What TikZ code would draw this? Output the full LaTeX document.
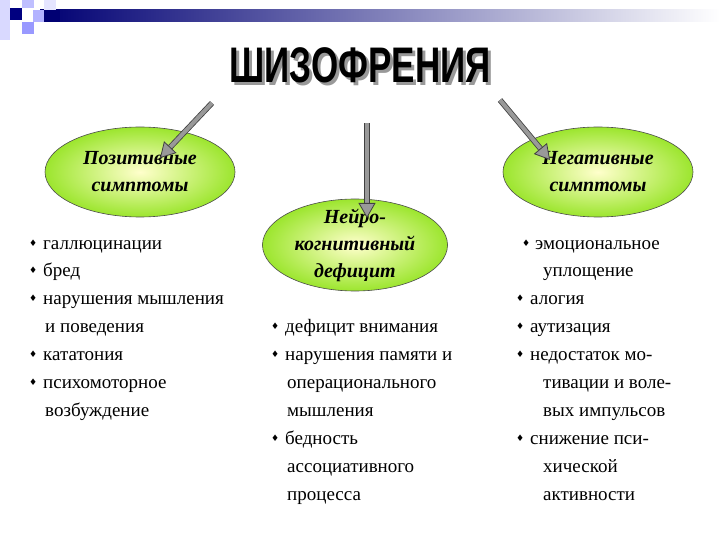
\documentclass[tikz,border=0pt]{standalone}
\usepackage{fontspec}
\setmainfont{Liberation Serif}
\newfontfamily\titlefont{Liberation Sans}
\newfontfamily\symfont{DejaVu Sans}
\usetikzlibrary{shadings,shapes.geometric,calc,arrows.meta}
\begin{document}
\begin{tikzpicture}[x=1pt,y=-1pt,
  ell/.style={draw=black!70,line width=0.6pt,inner color=white!80!yellow,outer color=green!40!yellow!80!white!90!black},
  lbl/.style={font=\fontsize{20}{27}\selectfont\bfseries\itshape,align=center},
  txt/.style={anchor=base west,font=\fontsize{19}{23}\selectfont,inner sep=0},
  bul/.style={anchor=base west,font=\symfont\fontsize{9}{9}\selectfont,inner sep=0,yshift=3pt},
  arr/.style={draw=black!75,line width=0.8pt,double=gray!80,double distance=4pt,
    -{Triangle[length=15pt,width=17pt,fill=gray!80]}}]
\useasboundingbox (0,0) rectangle (720,540);
% header decoration
\shade[left color=blue!45!black,right color=white] (40,10) rectangle (720,22);
\fill[blue!45!black] (40,10) rectangle (60,22);
\fill[blue!50!black] (10,8) rectangle (22,20);
\fill[blue!15] (0,0) rectangle (10,40);
\fill[blue!25] (22,0) rectangle (34,8);
\fill[blue!30] (33,10) rectangle (44,22);
\fill[blue!40] (22,22) rectangle (34,34);
\fill[blue!10] (44,0) rectangle (56,10);
% title
\node[font=\titlefont\bfseries\fontsize{50}{50}\selectfont,text=black!40,xscale=0.7] at (363,68) {ШИЗОФРЕНИЯ};
\node[font=\titlefont\bfseries\fontsize{50}{50}\selectfont,xscale=0.7] (t) at (360,65) {ШИЗОФРЕНИЯ};
% ellipses
\node[ell,ellipse,minimum width=190,minimum height=90] (p) at (140,172) {};
\node[lbl] at (p) {Позитивные\\симптомы};
\node[ell,ellipse,minimum width=190,minimum height=90] (n) at (598,172) {};
\node[lbl] at (n) {Негативные\\симптомы};
\node[ell,ellipse,minimum width=185,minimum height=92] (m) at (355,245) {};
\node[lbl] at (m) {Нейро-\\когнитивный\\дефицит};
% arrows
\coordinate (a1) at (212,103); \coordinate (b1) at (160,158);
\coordinate (a2) at (367,123); \coordinate (b2) at (367,218);
\coordinate (a3) at (500,100); \coordinate (b3) at (550,160);
\draw[arr] (a1) -- (b1);
\draw[arr] (a2) -- (b2);
\draw[arr] (a3) -- (b3);
% left list
\foreach \y/\b/\t in {249/1/галлюцинации,276/1/бред,304/1/нарушения мышления,332/0/и поведения,360/1/кататония,388/1/психомоторное,416/0/возбуждение}{
  \ifnum\b=1 \node[bul] at (29,\y) {♦};\node[txt] at (43,\y) {\t};\else\node[txt] at (45,\y) {\t};\fi
}
% middle list
\foreach \y/\b/\t in {332/1/дефицит внимания,360/1/нарушения памяти и,388/0/операционального,416/0/мышления,444/1/бедность,472/0/ассоциативного,500/0/процесса}{
  \ifnum\b=1 \node[bul] at (271,\y) {♦};\node[txt] at (285,\y) {\t};\else\node[txt] at (287,\y) {\t};\fi
}
% right list
\foreach \y/\b/\t in {249/1/эмоциональное,276/0/уплощение,304/1/алогия,332/1/аутизация,360/1/недостаток мо-,388/0/тивации и воле-,416/0/вых импульсов,444/1/снижение пси-,472/0/хической,500/0/активности}{
  \ifnum\b=1 \node[bul] at (\ifnum\y=249 522\else 516\fi,\y) {♦};\node[txt] at (\ifnum\y=249 535\else 530\fi,\y) {\t};\else\node[txt] at (543,\y) {\t};\fi
}
\end{tikzpicture}
\end{document}
